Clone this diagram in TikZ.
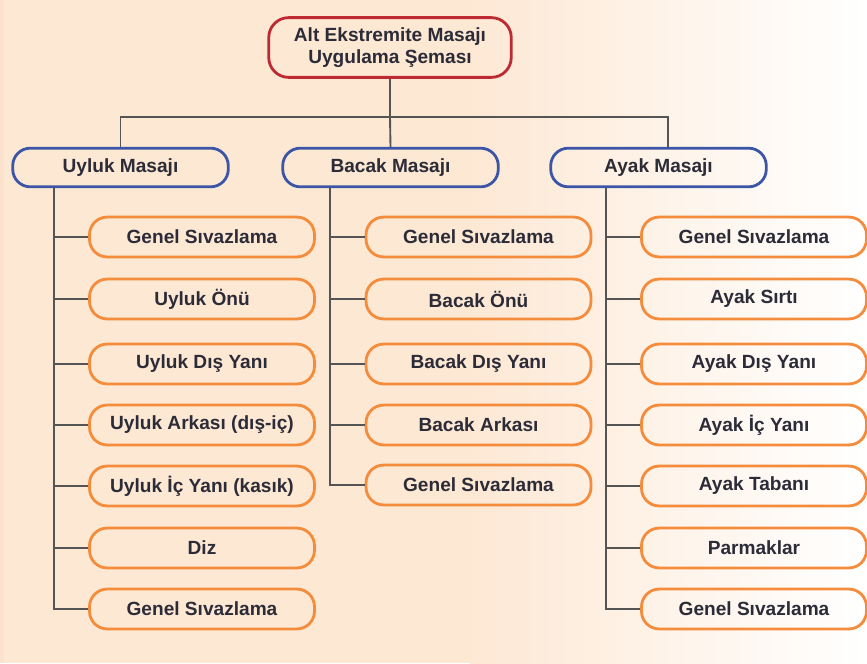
\documentclass[tikz,border=0pt]{standalone}
\usepackage{fontspec}
\setmainfont{Liberation Sans}
\usetikzlibrary{calc}
\definecolor{peach}{HTML}{FDE8D4}
\definecolor{edge}{HTML}{FCE1CC}
\definecolor{kutured}{HTML}{BE2A33}
\definecolor{kutublue}{HTML}{3D55A6}
\definecolor{kutuorange}{HTML}{F48C3C}
\definecolor{ink}{HTML}{2C2C38}
\definecolor{stem}{HTML}{555555}
\tikzset{
	base/.style={line width=2.4pt,text=ink,font=\fontsize{16.3}{19}\selectfont\bfseries,align=center,inner sep=0pt},
	head/.style={base,draw=kutured,rounded corners=17pt,minimum width=207pt,minimum height=51pt},
	group/.style={base,draw=kutublue,rounded corners=15pt,minimum width=184pt,minimum height=33pt},
	item/.style={base,draw=kutuorange,rounded corners=15pt,minimum width=192pt,minimum height=34pt},
	hat/.style={draw=stem,line width=1.6pt}
}
\newcommand{\twig}[2]{% yaprak kutusu, dikey hat
	\draw[hat] (#1.west) -- (#1.west -| #2);
	}

\begin{document}
\begin{tikzpicture}[x=0.03cm,y=-0.03cm]
	\useasboundingbox (0,0) rectangle (867,663);
	\fill[peach] (0,0) rectangle (867,663);
	\shade[left color=peach,right color=white] (470,0) rectangle (867,663);
	\fill[edge] (0,0) rectangle (4,663);

	\node[head] (top) at (390,47.5) {Alt Ekstremite Masajı\\Uygulama Şeması};

	\node[group] (uyluk) at (120.5,167.5) {Uyluk Masajı};
	\node[group] (bacak) at (390.5,167.5) {Bacak Masajı};
	\node[group] (ayak) at (658.5,167.5) {Ayak Masajı};

	\coordinate (bar) at (390,117);
	\draw[hat] (top.south) -- (bar);
	\draw[hat] (uyluk.north) |- (bar) -| ($(ayak.north)+(9.5,0)$);
	\draw[hat] (bar) -- (bacak.north);

	% uyluk
	\node[item] (u1) at (202,237) {Genel Sıvazlama};
	\node[item] (u2) at (202,299) {Uyluk Önü};
	\node[item] (u3) at (202,364) {Uyluk Dış Yanı};
	\node[item] (u4) at (202,425) {Uyluk Arkası (dış-iç)};
	\node[item] (u5) at (202,486) {Uyluk İç Yanı (kasık)};
	\node[item] (u6) at (202,548) {Diz};
	\node[item] (u7) at (202,609) {Genel Sıvazlama};
	\coordinate (us) at ($(uyluk.south west)+(43,0)$);
	\draw[hat] (us) |- (u7.west);
	\twig{u1}{us}\twig{u2}{us}\twig{u3}{us}\twig{u4}{us}\twig{u5}{us}\twig{u6}{us}

	% bacak
	\node[item] (b1) at (478.5,237) {Genel Sıvazlama};
	\node[item] (b2) at (478.5,299) {Bacak Önü};
	\node[item] (b3) at (478.5,364) {Bacak Dış Yanı};
	\node[item] (b4) at (478.5,425) {Bacak Arkası};
	\node[item] (b5) at (478.5,485) {Genel Sıvazlama};
	\coordinate (bs) at ($(bacak.south west)+(49,0)$);
	\draw[hat] (bs) |- (b5.west);
	\twig{b1}{bs}\twig{b2}{bs}\twig{b3}{bs}\twig{b4}{bs}

	% ayak
	\node[item] (a1) at (754,237) {Genel Sıvazlama};
	\node[item] (a2) at (754,299) {Ayak Sırtı};
	\node[item] (a3) at (754,364) {Ayak Dış Yanı};
	\node[item] (a4) at (754,425) {Ayak İç Yanı};
	\node[item] (a5) at (754,486) {Ayak Tabanı};
	\node[item] (a6) at (754,548) {Parmaklar};
	\node[item] (a7) at (754,609) {Genel Sıvazlama};
	\coordinate (as) at ($(ayak.south west)+(57,0)$);
	\draw[hat] (as) |- (a7.west);
	\twig{a1}{as}\twig{a2}{as}\twig{a3}{as}\twig{a4}{as}\twig{a5}{as}\twig{a6}{as}
\end{tikzpicture}
\end{document}
